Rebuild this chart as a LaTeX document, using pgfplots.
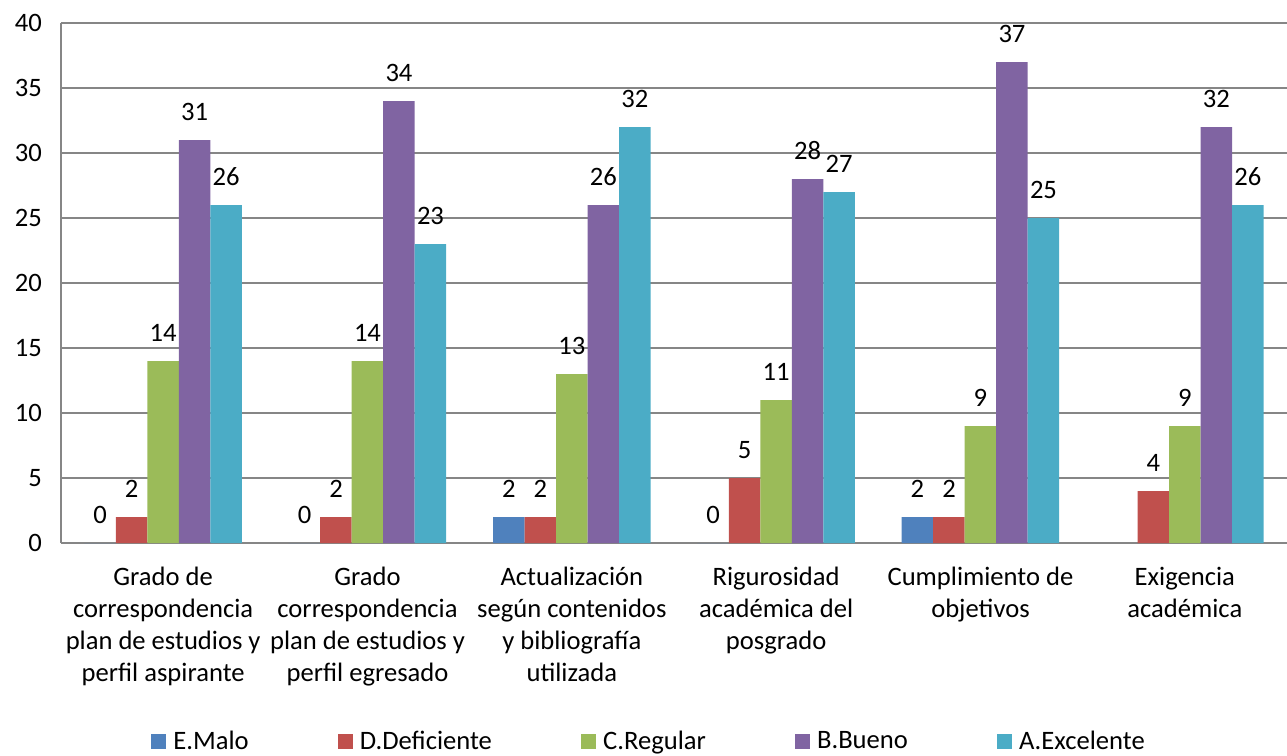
\documentclass[border=0pt]{standalone}
\usepackage{pgfplots}
\pgfplotsset{compat=1.18}
\usepackage{fontspec}
\setmainfont{Carlito}
\definecolor{cE}{HTML}{4F81BD}
\definecolor{cD}{HTML}{C0504D}
\definecolor{cC}{HTML}{9BBB59}
\definecolor{cB}{HTML}{8064A2}
\definecolor{cA}{HTML}{4BACC6}
\definecolor{gridc}{RGB}{134,134,134}
\begin{document}
\begin{tikzpicture}[font=\fontsize{13.3}{16}\selectfont]
\useasboundingbox (-30.5pt,-106.5pt) rectangle (613pt,271.5pt);
\begin{axis}[
  at={(0,0)}, anchor=south west,
  scale only axis, width=613pt, height=260pt,
  /pgf/number format/assume math mode=true,
  ybar=0pt, bar width=15.75pt,
  xmin=-0.5, xmax=5.5, ymin=0, ymax=40,
  ytick={0,5,...,40},
  xtick={0,1,2,3,4,5},
  xticklabels={{Grado de\\correspondencia\\plan de estudios y\\perfil aspirante},
               {Grado\\correspondencia\\plan de estudios y\\perfil egresado},
               {Actualización\\según contenidos\\y bibliografía\\utilizada},
               {Rigurosidad\\académica del\\posgrado},
               {Cumplimiento de\\objetivos},
               {Exigencia\\académica}},
  x tick label style={align=center, yshift=-8.5pt},
  y tick label style={xshift=-6pt},
  major tick length=0pt,
  axis x line*=bottom, axis y line*=left,
  axis line style={gridc, line width=1pt, -},
  ymajorgrids, grid style={gridc, line width=0.6pt},
  nodes near coords={\pgfmathprintnumber\pgfplotspointmeta},
  every node near coord/.append style={anchor=south, inner sep=0pt, yshift=9.5pt, text=black},
  legend columns=5,
  legend style={at={(0.48,-0.382)}, anchor=center, draw=none, fill=none,
    /tikz/every even column/.append style={column sep=43pt},
    /tikz/every odd column/.append style={column sep=2pt},
    nodes={inner xsep=1.5pt, inner ysep=0.3pt}},
  legend image code/.code={\fill[#1] (0pt,-3.8pt) rectangle (7.6pt,3.8pt);},
]
\addplot[fill=cE, draw=none] coordinates {(0,0) (1,0) (2,2) (3,0) (4,2)};
\addplot[fill=cD, draw=none] coordinates {(0,2) (1,2) (2,2) (3,5) (4,2) (5,4)};
\addplot[fill=cC, draw=none] coordinates {(0,14) (1,14) (2,13) (3,11) (4,9) (5,9)};
\addplot[fill=cB, draw=none] coordinates {(0,31) (1,34) (2,26) (3,28) (4,37) (5,32)};
\addplot[fill=cA, draw=none] coordinates {(0,26) (1,23) (2,32) (3,27) (4,25) (5,26)};
\legend{E.Malo, D.Deficiente, C.Regular, B.Bueno, A.Excelente}
\end{axis}
\end{tikzpicture}
\end{document}
